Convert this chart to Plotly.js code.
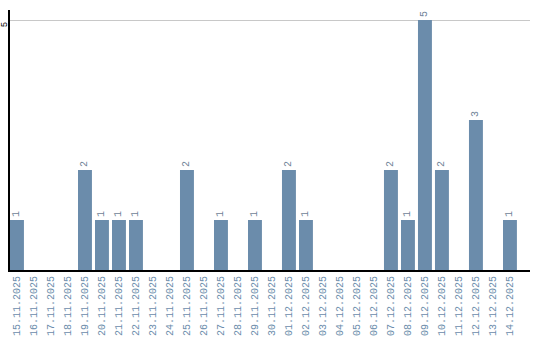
<!DOCTYPE html>
<html><head><meta charset="utf-8">
<script src="https://cdn.plot.ly/plotly-3.0.1.min.js"></script>
<style>html,body{margin:0;padding:0;background:#fff}#chart{width:540px;height:340px}</style>
</head><body><div id="chart"></div>
<script>
const dates = ["15.11.2025","16.11.2025","17.11.2025","18.11.2025","19.11.2025","20.11.2025","21.11.2025","22.11.2025","23.11.2025","24.11.2025","25.11.2025","26.11.2025","27.11.2025","28.11.2025","29.11.2025","30.11.2025","01.12.2025","02.12.2025","03.12.2025","04.12.2025","05.12.2025","06.12.2025","07.12.2025","08.12.2025","09.12.2025","10.12.2025","11.12.2025","12.12.2025","13.12.2025","14.12.2025"];
const counts = [1,0,0,0,2,1,1,1,0,0,2,0,1,0,1,0,2,1,0,0,0,0,2,1,5,2,0,3,0,1];
const labels = counts.map(v => v > 0 ? String(v) : "");
const trace = {
  type: "bar", x: dates, y: counts, text: labels,
  textposition: "outside", textangle: -90, cliponaxis: false,
  textfont: {family: "Liberation Mono", size: 10, color: "#6f8397"},
  marker: {color: "#6b8cab"}, hoverinfo: "none"
};
const layout = {
  width: 540, height: 340,
  margin: {l: 10, r: 10, t: 10, b: 70},
  paper_bgcolor: "#fff", plot_bgcolor: "#fff",
  bargap: 0.18, showlegend: false,
  xaxis: {type: "category", range: [-0.41, 30.18], tickangle: -90,
    tickfont: {family: "Liberation Mono", size: 10, color: "#6b8cab"},
    showline: true, linecolor: "#000", linewidth: 2, ticks: "", showgrid: false, zeroline: false},
  yaxis: {range: [0, 5.2], tickvals: [5], ticktext: ["5"], tickangle: -90,
    ticklabelshift: 6, ticklabelstandoff: -3,
    tickfont: {family: "Liberation Mono", size: 9, color: "#000"},
    showline: true, linecolor: "#000", linewidth: 2, ticks: "", ticklen: 0,
    showgrid: true, gridcolor: "#c8c8c8", gridwidth: 1, zeroline: false}
};
Plotly.newPlot("chart", [trace], layout, {staticPlot: true, displayModeBar: false});
</script></body></html>
